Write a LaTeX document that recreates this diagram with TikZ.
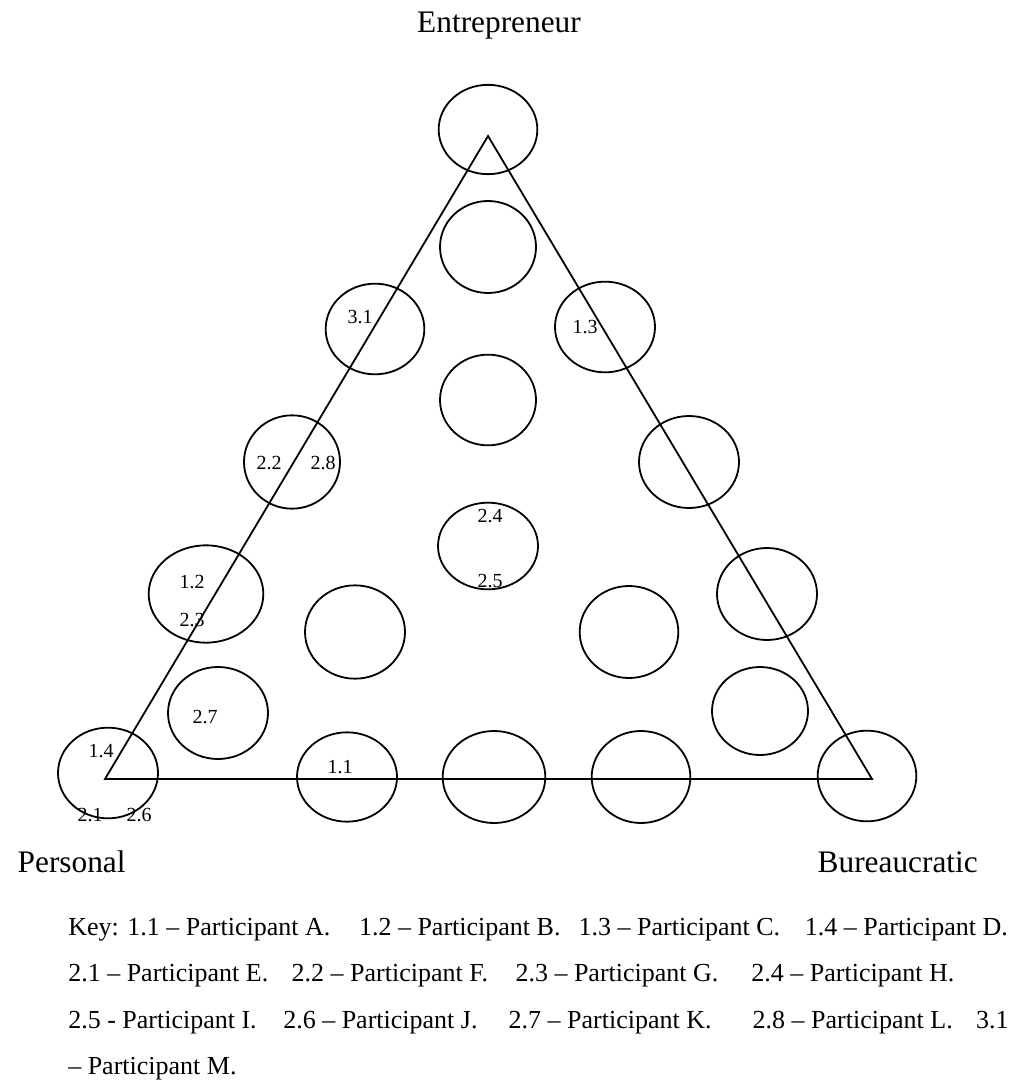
\documentclass[tikz,border=0pt]{standalone}
\usepackage{fontspec}
\setmainfont{Liberation Serif}
\usetikzlibrary{shapes.geometric}

\begin{document}
\begin{tikzpicture}[
    x=0.75pt, y=-0.75pt,
    spot/.style={draw, ellipse, line width=1.35pt, inner sep=0pt},
    side/.style={line width=1.35pt, line join=miter},
    corner/.style={font=\fontsize{23.5}{28}\selectfont, anchor=base},
    tag/.style={font=\fontsize{15}{18}\selectfont, anchor=base, inner sep=0pt},
    keyline/.style={font=\fontsize{19.5}{23}\selectfont, anchor=base west, inner sep=0pt}
]
\useasboundingbox (0,0) rectangle (1013,1080);

% Corner labels
\node[corner] (entre) at (499,33) {Entrepreneur};
\node[corner, anchor=base west] (pers) at (13,872) {Personal};
\node[corner, anchor=base west] (bureau) at (813,872) {Bureaucratic};

% Triangle
\coordinate (apex)  at (488,136);
\coordinate (left)  at (105,779);
\coordinate (right) at (872,779);
\draw[side] (apex) -- (left) -- (right) -- cycle;

% Ellipses, top to bottom
\node[spot, minimum width=74pt, minimum height=67pt] (e1)  at (488,129.5) {};
\node[spot, minimum width=72pt, minimum height=69pt] (e2)  at (488,247) {};
\node[spot, minimum width=74pt, minimum height=68pt] (e3)  at (375,329) {};
\node[spot, minimum width=75pt, minimum height=68pt] (e4)  at (605,327) {};
\node[spot, minimum width=72pt, minimum height=68pt] (e5)  at (488,400) {};
\node[spot, minimum width=72pt, minimum height=70pt] (e6)  at (292,462) {};
\node[spot, minimum width=75pt, minimum height=69pt] (e7)  at (689,462) {};
\node[spot, minimum width=75pt, minimum height=65pt] (e8)  at (488,546) {};
\node[spot, minimum width=86pt, minimum height=73pt] (e9)  at (206,594) {};
\node[spot, minimum width=75pt, minimum height=70pt] (e10) at (355,632) {};
\node[spot, minimum width=74pt, minimum height=69pt] (e11) at (629,632) {};
\node[spot, minimum width=75pt, minimum height=69pt] (e12) at (767,594) {};
\node[spot, minimum width=75pt, minimum height=69pt] (e13) at (218,713) {};
\node[spot, minimum width=72pt, minimum height=66pt] (e14) at (760,711) {};
\node[spot, minimum width=75pt, minimum height=68pt] (e15) at (108,773) {};
\node[spot, minimum width=75pt, minimum height=67pt] (e16) at (347,777) {};
\node[spot, minimum width=77pt, minimum height=69pt] (e17) at (494,777) {};
\node[spot, minimum width=74pt, minimum height=69pt] (e18) at (641,777) {};
\node[spot, minimum width=74pt, minimum height=68pt] (e19) at (867,776) {};

% Participant codes
\node[tag] (t31) at (360,324) {3.1};
\node[tag] (t13) at (585,333) {1.3};
\node[tag] (t22) at (269,469) {2.2};
\node[tag] (t28) at (323,469) {2.8};
\node[tag] (t24) at (490,522) {2.4};
\node[tag] (t25) at (490,587) {2.5};
\node[tag] (t12) at (192,588) {1.2};
\node[tag] (t23) at (192,626) {2.3};
\node[tag] (t27) at (205,723) {2.7};
\node[tag] (t14) at (101,757) {1.4};
\node[tag] (t21) at (90,821) {2.1};
\node[tag] (t26) at (139,821) {2.6};
\node[tag] (t11) at (340,773) {1.1};

% Key
\node[keyline] (key1) at (68,935)
  {Key: 1.1 – Participant A.\hspace{1.1em}1.2 – Participant B.\hspace{0.7em}1.3 – Participant C.\hspace{0.95em}1.4 – Participant D.};
\node[keyline] (key2) at (68,981.5)
  {2.1 – Participant E.\hspace{0.9em}2.2 – Participant F.\hspace{1.05em}2.3 – Participant G.\hspace{1.27em}2.4 – Participant H.};
\node[keyline] (key3) at (68,1028)
  {2.5 - Participant I.\hspace{1.02em}2.6 – Participant J.\hspace{1.2em}2.7 – Participant K.\hspace{1.58em}2.8 – Participant L.\hspace{0.9em}3.1};
\node[keyline] (key4) at (68,1074.5) {– Participant M.};
\end{tikzpicture}
\end{document}
